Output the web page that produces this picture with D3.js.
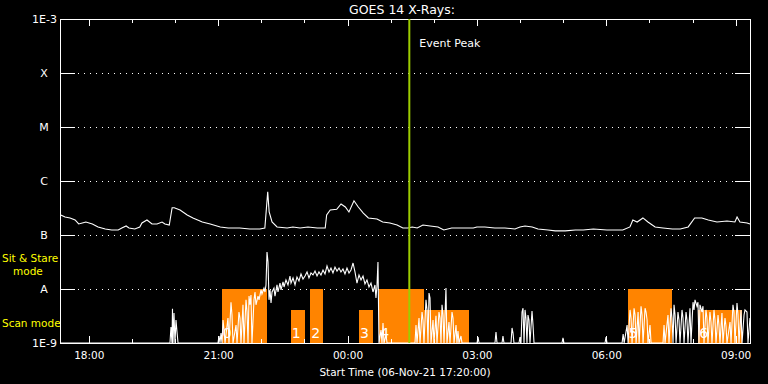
<!DOCTYPE html>
<html>
<head>
<meta charset="utf-8">
<script src="https://cdn.jsdelivr.net/npm/d3@7"></script>
<style>
  body { margin: 0; background: #000; }
  svg { display: block; }
  text { font-family: "DejaVu Sans", sans-serif; fill: #fff; }
</style>
</head>
<body>
<script>
const width = 768;
const height = 384;
const margin = {left: 60, top: 19, right: 18, bottom: 41};

// start of the plot: 06-Nov-21 17:20:00
const startTime = new Date(2021, 10, 6, 17, 20);
const spanHours = 16;

// y axis decades and their labels
const decades = [1e-9, 1e-8, 1e-7, 1e-6, 1e-5, 1e-4, 1e-3];
const decadeLabels = ['1E-9', 'A', 'B', 'C', 'M', 'X', '1E-3'];

// long channel (1-8 A), [minutes after start, flux W/m^2]
const longFlux = [
  [1, 2.35e-7], [7, 2.15e-7], [14, 2.07e-7], [21, 1.9e-7], [26, 1.6e-7], [31, 1.67e-7],
  [36, 1.74e-7], [45, 1.6e-7], [53, 1.41e-7], [63, 1.29e-7], [72, 1.24e-7], [81, 1.24e-7],
  [86, 1.35e-7], [92, 1.47e-7], [96, 1.35e-7], [104, 1.29e-7], [111, 1.41e-7], [114, 1.67e-7],
  [121, 1.9e-7], [128, 1.6e-7], [135, 1.6e-7], [142, 1.74e-7], [146, 1.6e-7], [152, 1.53e-7],
  [156, 3.2e-7], [159, 3.2e-7], [167, 2.9e-7], [177, 2.35e-7], [185, 2.07e-7], [198, 1.74e-7],
  [209, 1.6e-7], [223, 1.41e-7], [234, 1.35e-7], [241, 1.35e-7], [250, 1.35e-7], [264, 1.29e-7],
  [278, 1.29e-7], [285, 1.35e-7], [289, 6.3e-7], [291, 2.67e-7], [295, 1.74e-7], [302, 1.41e-7],
  [316, 1.35e-7], [324, 1.41e-7], [334, 1.35e-7], [345, 1.41e-7], [358, 1.35e-7], [369, 1.35e-7],
  [371, 2.35e-7], [376, 2.9e-7], [385, 3.0e-7], [391, 3.75e-7], [397, 3.3e-7], [402, 2.67e-7],
  [409, 4.3e-7], [415, 3.3e-7], [422, 2.55e-7], [429, 2.07e-7], [441, 1.98e-7], [449, 1.74e-7],
  [459, 1.67e-7], [469, 1.53e-7], [477, 1.35e-7], [484, 1.35e-7], [490, 1.41e-7], [497, 1.35e-7],
  [505, 1.53e-7], [515, 1.47e-7], [526, 1.41e-7], [534, 1.24e-7], [545, 1.35e-7], [559, 1.35e-7],
  [575, 1.35e-7], [580, 1.41e-7], [591, 1.41e-7], [605, 1.35e-7], [619, 1.35e-7], [633, 1.29e-7],
  [640, 1.41e-7], [647, 1.47e-7], [657, 1.41e-7], [665, 1.29e-7], [679, 1.24e-7], [689, 1.19e-7],
  [703, 1.19e-7], [717, 1.24e-7], [728, 1.24e-7], [742, 1.29e-7], [761, 1.24e-7], [783, 1.24e-7],
  [793, 1.41e-7], [797, 1.9e-7], [803, 1.74e-7], [811, 2.07e-7], [818, 1.74e-7], [828, 1.41e-7],
  [839, 1.35e-7], [852, 1.29e-7], [863, 1.29e-7], [874, 1.41e-7], [883, 2.07e-7], [893, 2.07e-7],
  [902, 1.9e-7], [914, 1.74e-7], [928, 1.82e-7], [939, 1.74e-7], [942, 2.15e-7], [946, 1.74e-7],
  [956, 1.67e-7], [960, 1.6e-7]
];

// short channel (0.5-4 A), 0 = below 1E-9
const shortFlux = [
  [0, 0], [153.0, 0], [154.4, 1.98e-9], [155.8, 0], [156.5, 4.3e-9], [157.2, 0], [158.6, 3.6e-9],
  [160.0, 0], [161.4, 2.67e-9], [162.8, 1.6e-9], [164.2, 0],
  [219.8, 0], [221.2, 1.35e-9], [222.6, 0], [224.0, 1.53e-9], [225.4, 0], [226.8, 2.67e-9],
  [228.2, 1.74e-9], [229.6, 0], [233.7, 2.9e-9], [235.1, 0], [237.9, 5.7e-9], [239.3, 3.3e-9],
  [240.7, 0], [244.9, 2.15e-9], [246.3, 0], [249.0, 3.75e-9], [250.4, 2.9e-9], [251.8, 0],
  [254.6, 5.1e-9], [256.0, 0], [258.8, 6.3e-9], [260.2, 3.75e-9], [261.6, 0], [263.0, 7.4e-9],
  [264.3, 5.1e-9], [265.7, 7.7e-9], [267.1, 0], [269.9, 6.3e-9], [271.3, 8.8e-9], [272.7, 5.1e-9],
  [275.5, 7.4e-9], [276.9, 6.3e-9], [279.7, 9.6e-9], [281.0, 8.1e-9], [283.8, 1.04e-8],
  [285.2, 8.8e-9], [286.6, 1.19e-8], [288.0, 4.84e-8], [289.4, 3.16e-8], [290.8, 6.3e-9],
  [292.2, 9.6e-9], [293.6, 5.5e-9], [295.0, 8.8e-9], [297.7, 1.04e-8], [299.1, 7.4e-9],
  [301.9, 1.19e-8], [303.3, 8.8e-9], [306.1, 1.29e-8], [307.5, 9.6e-9], [310.3, 1.35e-8],
  [311.7, 1.09e-8], [314.4, 1.47e-8], [317.2, 1.19e-8], [320.0, 1.74e-8], [321.4, 1.29e-8],
  [324.2, 1.6e-8], [327.0, 1.19e-8], [329.7, 1.67e-8], [332.5, 1.41e-8], [335.3, 1.9e-8],
  [338.1, 1.53e-8], [340.9, 1.74e-8], [343.7, 2.07e-8], [346.4, 1.6e-8], [349.2, 1.98e-8],
  [352.0, 1.82e-8], [354.8, 2.15e-8], [357.6, 1.74e-8], [360.3, 2.07e-8], [363.1, 1.82e-8],
  [365.9, 2.25e-8], [368.7, 1.9e-8], [371.5, 2.67e-8], [374.3, 2.07e-8], [377.0, 2.45e-8],
  [379.8, 1.98e-8], [382.6, 2.55e-8], [385.4, 2.15e-8], [388.2, 2.45e-8], [390.9, 2.07e-8],
  [393.7, 2.35e-8], [396.5, 1.9e-8], [399.3, 2.45e-8], [402.1, 1.98e-8], [404.9, 2.25e-8],
  [407.7, 3.03e-8], [410.4, 2.07e-8], [413.2, 1.29e-8], [416.0, 1.82e-8], [418.8, 1.47e-8],
  [421.6, 1.74e-8], [424.3, 1.24e-8], [427.1, 1.47e-8], [429.9, 1.09e-8], [432.7, 1.29e-8],
  [435.5, 8.8e-9], [438.2, 1.19e-8], [439.6, 6.8e-9], [441.0, 1.14e-8], [442.4, 3.16e-8], [443.8, 0],
  [446.6, 1.74e-9], [448.0, 0], [449.4, 2.35e-9], [450.8, 0], [453.6, 1.41e-9], [455.0, 0],
  [493.9, 0], [495.3, 2.15e-9], [496.7, 0], [499.5, 2.9e-9], [500.9, 0], [503.7, 3.75e-9],
  [505.0, 2.67e-9], [506.4, 0], [509.2, 6.3e-9], [510.6, 4.1e-9], [512.0, 0], [513.4, 8.4e-9],
  [514.8, 6.8e-9], [516.2, 0], [519.0, 2.67e-9], [520.3, 0], [523.1, 3.2e-9], [524.5, 0],
  [527.3, 3.75e-9], [528.7, 2.9e-9], [530.1, 0], [531.5, 5.1e-9], [532.9, 3.3e-9], [534.3, 0],
  [537.0, 1.04e-8], [538.4, 0], [541.2, 2.45e-9], [542.6, 0], [545.4, 3.75e-9], [546.8, 2.9e-9],
  [548.2, 0], [551.0, 2.15e-9], [552.3, 0], [553.7, 1.67e-9], [555.1, 0], [557.9, 1.35e-9], [559.3, 0],
  [580.2, 0], [581.6, 1.29e-9], [583.0, 0], [605.2, 0], [606.6, 1.6e-9], [608.0, 0], [615.0, 0],
  [616.3, 1.35e-9], [617.7, 0], [627.5, 0], [628.9, 1.9e-9], [630.3, 1.53e-9], [631.6, 0],
  [638.6, 0], [640.0, 1.29e-9], [641.4, 0], [642.8, 3.75e-9], [644.2, 4.4e-9], [645.6, 0],
  [647.0, 4.1e-9], [648.3, 2.9e-9], [649.7, 0], [651.1, 3.3e-9], [652.5, 2.67e-9], [653.9, 0],
  [656.7, 3.9e-9], [658.1, 2.15e-9], [659.5, 0], [698.4, 0], [699.8, 1.24e-9], [701.2, 0],
  [758.3, 0], [759.7, 1.29e-9], [761.1, 0], [782.0, 0], [783.5, 1.47e-9], [784.9, 0],
  [789.0, 2.15e-9], [790.4, 0], [793.1, 4.1e-9], [794.5, 2.9e-9], [795.9, 0], [798.7, 4.4e-9],
  [800.1, 3.3e-9], [801.5, 0], [804.3, 3.75e-9], [805.7, 0], [808.4, 4.8e-9], [809.8, 3.3e-9],
  [811.2, 0], [814.0, 4.4e-9], [815.4, 3.75e-9], [816.8, 2.67e-9], [818.1, 0], [820.9, 2.15e-9],
  [822.3, 0], [839.0, 0], [840.4, 2.15e-9], [841.8, 0], [845.9, 3.3e-9], [847.3, 0],
  [850.1, 4.4e-9], [851.5, 2.9e-9], [852.9, 0], [854.3, 5.1e-9], [855.7, 3.3e-9], [857.1, 0],
  [859.8, 3.75e-9], [861.2, 2.67e-9], [862.6, 0], [865.4, 4.1e-9], [866.8, 2.9e-9], [868.2, 0],
  [871.0, 3.75e-9], [872.3, 2.67e-9], [873.7, 0], [876.5, 4.4e-9], [877.9, 0], [880.7, 5.7e-9],
  [882.1, 4.1e-9], [883.5, 6.3e-9], [886.2, 4.8e-9], [887.6, 5.7e-9], [889.0, 0], [890.4, 5.1e-9],
  [893.2, 3.75e-9], [894.6, 4.8e-9], [896.0, 0], [898.7, 4.1e-9], [900.1, 2.9e-9], [901.5, 0],
  [904.3, 3.75e-9], [905.7, 2.45e-9], [907.1, 0], [909.9, 4.1e-9], [911.3, 2.67e-9], [912.7, 0],
  [915.5, 3.3e-9], [916.8, 2.15e-9], [918.2, 0], [921.0, 3.6e-9], [922.4, 0], [925.2, 2.9e-9],
  [926.6, 2.07e-9], [928.0, 0], [932.2, 2.45e-9], [933.6, 0], [936.3, 5.1e-9], [937.7, 3.75e-9],
  [939.1, 0], [941.9, 5.5e-9], [943.3, 3.3e-9], [944.7, 0], [947.5, 4.1e-9], [948.9, 0],
  [951.7, 3.3e-9], [953.0, 4.1e-9], [955.8, 3.75e-9], [957.2, 0], [960.0, 2.9e-9]
];

// observation blocks: start, end, mode, label
const blockStart = ['21:05', '22:41', '23:08', '00:16', '00:44', '01:46', '06:30', '08:08'];
const blockEnd   = ['22:08', '23:01', '23:26', '00:35', '01:46', '02:49', '07:32', '09:09'];
const blockMode  = ['stare', 'scan', 'stare', 'scan', 'stare', 'scan', 'stare', 'scan'];
const blockLabel = ['0', '1', '2', '3', '4', '', '5', '6'];

const eventPeak = '01:26';

function clock(s) {
  const [h, m] = s.split(':').map(Number);
  return new Date(2021, 10, h >= 17 ? 6 : 7, h, m);
}
function afterStart(min) {
  return new Date(+startTime + min * 60000);
}

const svg = d3.select('body').append('svg')
    .attr('width', width)
    .attr('height', height)
    .style('background', '#000');

const x = d3.scaleTime()
    .domain([startTime, d3.timeHour.offset(startTime, spanHours)])
    .range([margin.left, width - margin.right]);

const y = d3.scaleLog()
    .domain([1e-9, 1e-3])
    .range([height - margin.bottom, margin.top])
    .clamp(true);

const y0 = height - margin.bottom;
const modeTop = {stare: 1e-8, scan: 4.1e-9};

// dotted decade lines
svg.append('g')
  .selectAll('line')
  .data(decades.slice(1, -1))
  .join('line')
    .attr('x1', margin.left + 18)
    .attr('x2', width - margin.right - 15)
    .attr('y1', d => Math.round(y(d)) + 0.5)
    .attr('y2', d => Math.round(y(d)) + 0.5)
    .attr('stroke', '#fff')
    .attr('stroke-dasharray', '1,5');

// blocks
const blocks = blockStart.map((s, i) => ({
  t0: clock(s), t1: clock(blockEnd[i]), mode: blockMode[i], label: blockLabel[i]
}));

svg.append('g')
  .selectAll('rect')
  .data(blocks)
  .join('rect')
    .attr('x', d => x(d.t0))
    .attr('width', d => x(d.t1) - x(d.t0))
    .attr('y', d => y(modeTop[d.mode]))
    .attr('height', d => y0 - y(modeTop[d.mode]))
    .attr('fill', '#ff8400')
    .attr('shape-rendering', 'crispEdges');

svg.append('g')
  .selectAll('text')
  .data(blocks)
  .join('text')
    .attr('x', d => x(d.t0) + 1)
    .attr('y', y0 - 5)
    .style('font-size', '14px')
    .text(d => d.label);

// curves
const line = d3.line()
    .x(d => x(afterStart(d[0])))
    .y(d => y(Math.max(d[1], 1e-9)));

svg.append('path')
    .datum(longFlux)
    .attr('d', line)
    .attr('fill', 'none')
    .attr('stroke', '#fff')
    .attr('stroke-width', 1.1);

svg.append('path')
    .datum(shortFlux)
    .attr('d', line)
    .attr('fill', 'none')
    .attr('stroke', '#fff')
    .attr('stroke-width', 1.1);

// axes
const hourly = d3.timeHour.every(1);
const threeHourly = d3.timeHour.every(3);

function styleAxis(g) {
  g.selectAll('path, line').attr('stroke', '#fff').attr('shape-rendering', 'crispEdges');
  g.selectAll('text').attr('fill', '#fff').style('font-size', '10.5px')
    .style('font-family', '"DejaVu Sans", sans-serif');
}

svg.append('g')
    .attr('transform', `translate(0, ${y0})`)
    .call(d3.axisBottom(x).ticks(hourly).tickSize(-4).tickFormat('').tickSizeOuter(0))
    .call(styleAxis);

svg.append('g')
    .attr('transform', `translate(0, ${y0})`)
    .call(d3.axisBottom(x).ticks(threeHourly).tickSize(-7).tickPadding(9)
      .tickFormat(d3.timeFormat('%H:%M')).tickSizeOuter(0))
    .call(styleAxis);

svg.append('g')
    .attr('transform', `translate(0, ${margin.top})`)
    .call(d3.axisTop(x).ticks(hourly).tickSize(-4).tickFormat('').tickSizeOuter(0))
    .call(styleAxis);

svg.append('g')
    .attr('transform', `translate(0, ${margin.top})`)
    .call(d3.axisTop(x).ticks(threeHourly).tickSize(-7).tickFormat('').tickSizeOuter(0))
    .call(styleAxis);

svg.append('g')
    .attr('transform', `translate(${margin.left}, 0)`)
    .call(d3.axisLeft(y).tickValues(decades).tickSize(-15).tickFormat('').tickSizeOuter(0))
    .call(styleAxis);

svg.append('g')
    .attr('transform', `translate(${width - margin.right}, 0)`)
    .call(d3.axisRight(y).tickValues(decades).tickSize(-15).tickFormat('').tickSizeOuter(0))
    .call(styleAxis);

// y labels
svg.append('g')
  .selectAll('text')
  .data(decades)
  .join('text')
    .attr('x', (d, i) => decadeLabels[i].length > 1 ? margin.left - 3 : margin.left - 16)
    .attr('y', d => y(d) + 4)
    .attr('text-anchor', (d, i) => decadeLabels[i].length > 1 ? 'end' : 'middle')
    .style('font-size', '11px')
    .text((d, i) => decadeLabels[i]);

// event peak
svg.append('line')
    .attr('x1', x(clock(eventPeak)))
    .attr('x2', x(clock(eventPeak)))
    .attr('y1', margin.top)
    .attr('y2', y0)
    .attr('stroke', '#9ccd00')
    .attr('stroke-width', 2);

svg.append('text')
    .attr('x', x(clock(eventPeak)) + 10)
    .attr('y', 47)
    .style('font-size', '11px')
    .text('Event Peak');

// titles
svg.append('text')
    .attr('x', 402)
    .attr('y', 14)
    .attr('text-anchor', 'middle')
    .style('font-size', '12.5px')
    .text('GOES 14 X-Rays:');

svg.append('text')
    .attr('x', 405)
    .attr('y', 376)
    .attr('text-anchor', 'middle')
    .style('font-size', '10.5px')
    .text('Start Time (06-Nov-21 17:20:00)');

// mode labels
const modeText = svg.append('g').style('font-size', '10.5px');
modeText.append('text').attr('x', 2).attr('y', 262).style('fill', '#ffff00').text('Sit & Stare');
modeText.append('text').attr('x', 13).attr('y', 275).style('fill', '#ffff00').text('mode');
modeText.append('text').attr('x', 2).attr('y', 327).style('fill', '#ffff00').text('Scan mode');
</script>
</body>
</html>
